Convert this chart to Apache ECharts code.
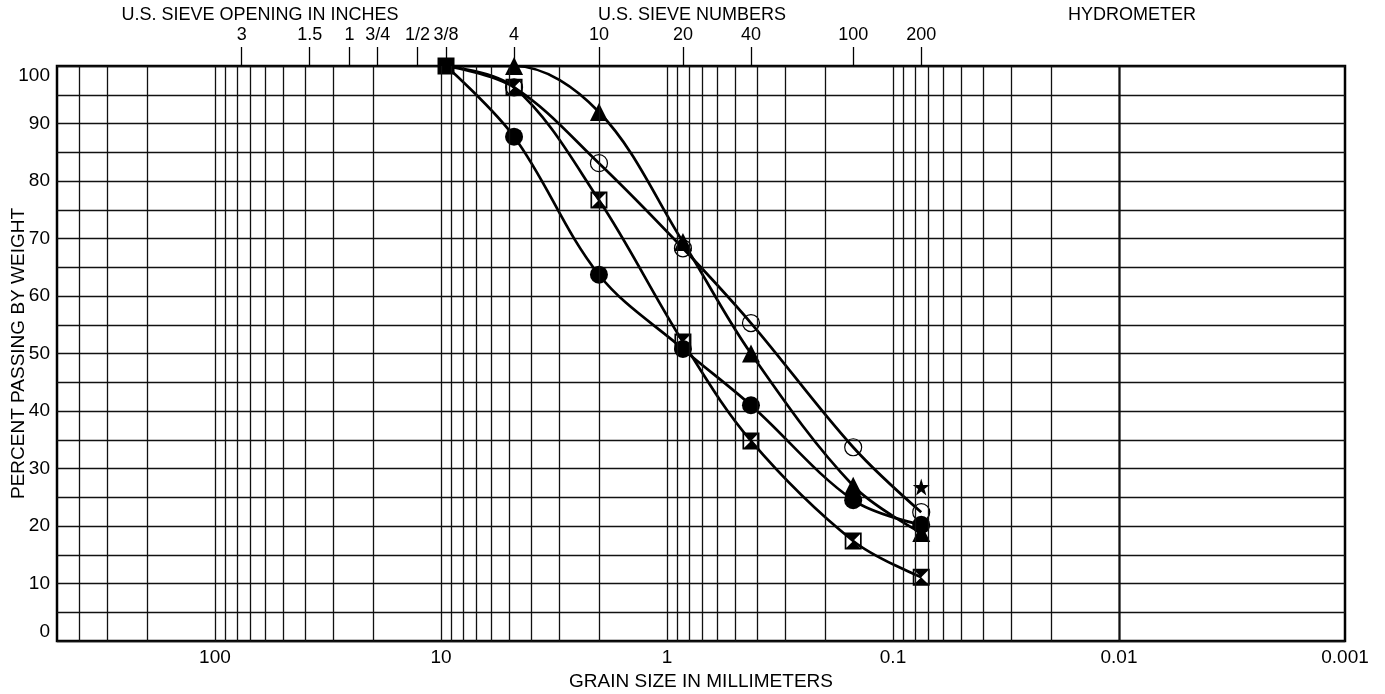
<!DOCTYPE html>
<html>
<head>
<meta charset="utf-8">
<title>Grain size distribution</title>
<script src="https://cdn.jsdelivr.net/npm/echarts@6.0.0/dist/echarts.min.js"></script>
<style>
  html, body { margin: 0; padding: 0; background: #fff; }
  #chart { width: 1385px; height: 694px; }
</style>
</head>
<body>
<div id="chart"></div>
<script>
// sieve openings (mm) the samples were read at: 3/8 in, #4, #10, #20, #40, #100, #200
const sieveSizes = [9.5, 4.75, 2.0, 0.85, 0.425, 0.15, 0.075];
// percent passing, one array per sample
const triangleSample = [100, 100, 92, 69.4, 50, 27, 18.8];
const openCircleSample = [100, 96.3, 83.1, 68.3, 55.3, 33.7, 22.4];
const bowtieSample = [100, 96.3, 76.7, 52, 34.8, 17.4, 11.1];
const dotSample = [100, 87.7, 63.7, 50.8, 41, 24.5, 20.2];
// lone reading at #200
const starPoint = [0.075, 26.8];

// top scale
const inchLabels = ['3', '1.5', '1', '3/4', '1/2', '3/8'];
const inchSizes = [76.2, 38.1, 25.4, 19.05, 12.7, 9.5];
const sieveNoLabels = ['4', '10', '20', '40', '100', '200'];
const sieveNoSizes = [4.75, 2.0, 0.85, 0.425, 0.15, 0.075];
// bottom scale
const grainLabels = ['100', '10', '1', '0.1', '0.01', '0.001'];
const grainTicks = [100, 10, 1, 0.1, 0.01, 0.001];

const FONT = 'Liberation Sans, Arial, sans-serif';
const X_MIN = 0.001, X_MAX = 500;

const topSizes = inchSizes.concat(sieveNoSizes);
const topLabels = inchLabels.concat(sieveNoLabels);

function lookup(v, vals, labels) {
  for (let i = 0; i < vals.length; i++) {
    if (Math.abs(v - vals[i]) / vals[i] < 1e-6) return labels[i];
  }
  return '';
}

// log grid lines 1..9 x 10^k
const logLines = [];
for (let e = -3; e <= 2; e++) {
  for (let m = 1; m <= 9; m++) {
    const v = +(m * Math.pow(10, e)).toPrecision(6);
    if (v > X_MIN && v < X_MAX) logLines.push({ xAxis: v });
  }
}

const SQUARE_BOWTIE = 'path://M0,0H20V20H0ZM2,2V18H18V2ZM2,2L18,2L10,10ZM2,18L10,10L18,18Z';
const STAR = 'path://M50,0L61,35L98,35L68,57L79,91L50,70L21,91L32,57L2,35L39,35Z';

function curve(values, symbol, size, itemStyle) {
  return {
    type: 'line',
    smooth: 0.35,
    symbol: symbol,
    symbolSize: size,
    showAllSymbol: true,
    data: values.map((v, i) => i === 0
      ? { value: [sieveSizes[i], v], symbol: 'none' }
      : [sieveSizes[i], v]),
    lineStyle: { color: '#000', width: 2.7 },
    itemStyle: itemStyle,
    z: 3
  };
}

const chart = echarts.init(document.getElementById('chart'));
chart.setOption({
  animation: false,
  backgroundColor: '#fff',
  textStyle: { fontFamily: FONT, color: '#000' },
  grid: {
    left: 57, right: 40, top: 66, bottom: 53,
    containLabel: false, outerBoundsMode: 'none',
    show: true, borderColor: '#000', borderWidth: 2.5
  },
  graphic: [
    { type: 'text', x: 260, y: 15, style: { text: 'U.S. SIEVE OPENING IN INCHES', font: '18px ' + FONT, fill: '#000', align: 'center', verticalAlign: 'middle' } },
    { type: 'text', x: 692, y: 15, style: { text: 'U.S. SIEVE NUMBERS', font: '18px ' + FONT, fill: '#000', align: 'center', verticalAlign: 'middle' } },
    { type: 'text', x: 1132, y: 15, style: { text: 'HYDROMETER', font: '18px ' + FONT, fill: '#000', align: 'center', verticalAlign: 'middle' } }
  ],
  xAxis: [
    {
      type: 'log', logBase: 10, inverse: true, min: X_MIN, max: X_MAX,
      position: 'bottom',
      name: 'GRAIN SIZE IN MILLIMETERS', nameLocation: 'middle', nameGap: 31,
      nameMoveOverlap: false,
      nameTextStyle: { fontSize: 19, color: '#000', fontFamily: FONT },
      axisLine: { show: false },
      axisTick: { show: false },
      splitLine: { show: false },
      axisLabel: {
        customValues: grainTicks, fontSize: 19, color: '#000', margin: 7,
        formatter: v => lookup(v, grainTicks, grainLabels)
      }
    },
    {
      type: 'log', logBase: 10, inverse: true, min: X_MIN, max: X_MAX,
      position: 'top',
      axisLine: { show: false },
      splitLine: { show: false },
      axisTick: { show: true, customValues: topSizes, length: 19, inside: false, lineStyle: { color: '#000', width: 1.3 } },
      axisLabel: {
        customValues: topSizes, fontSize: 18, color: '#000', margin: 22,
        formatter: v => lookup(v, topSizes, topLabels)
      }
    }
  ],
  yAxis: {
    type: 'value', min: 0, max: 100, interval: 10,
    name: 'PERCENT PASSING BY WEIGHT', nameLocation: 'middle', nameGap: 29,
    nameMoveOverlap: false,
    nameTextStyle: { fontSize: 19, color: '#000', fontFamily: FONT },
    axisLine: { show: false },
    axisTick: { show: false },
    axisLabel: { fontSize: 19, color: '#000', margin: 7, verticalAlignMinLabel: 'bottom', verticalAlignMaxLabel: 'top' },
    splitLine: { lineStyle: { color: '#111', width: 1.3 } },
    minorTick: { show: false, splitNumber: 2 },
    minorSplitLine: { show: true, lineStyle: { color: '#111', width: 1.3 } }
  },
  series: [
    {
      type: 'line', silent: true, data: [[9.5, 100]], showSymbol: false,
      lineStyle: { opacity: 0 }, z: 1,
      markLine: {
        silent: true, symbol: 'none', animation: false,
        label: { show: false },
        lineStyle: { color: '#111', width: 1.3, type: 'solid' },
        data: logLines
      }
    },
    curve(triangleSample, 'triangle', 18, { color: '#000' }),
    curve(openCircleSample, 'circle', 17, { color: 'rgba(0,0,0,0)', borderColor: '#000', borderWidth: 1.2 }),
    curve(bowtieSample, SQUARE_BOWTIE, 17, { color: '#000' }),
    curve(dotSample, 'circle', 18, { color: '#000' }),
    {
      type: 'scatter', symbol: 'rect', symbolSize: 17, z: 4,
      data: [[sieveSizes[0], 100]], itemStyle: { color: '#000', opacity: 1 }
    },
    {
      type: 'scatter', symbol: STAR, symbolSize: 17, z: 4,
      data: [starPoint], itemStyle: { color: '#000', opacity: 1 }
    }
  ]
});
</script>
</body>
</html>
